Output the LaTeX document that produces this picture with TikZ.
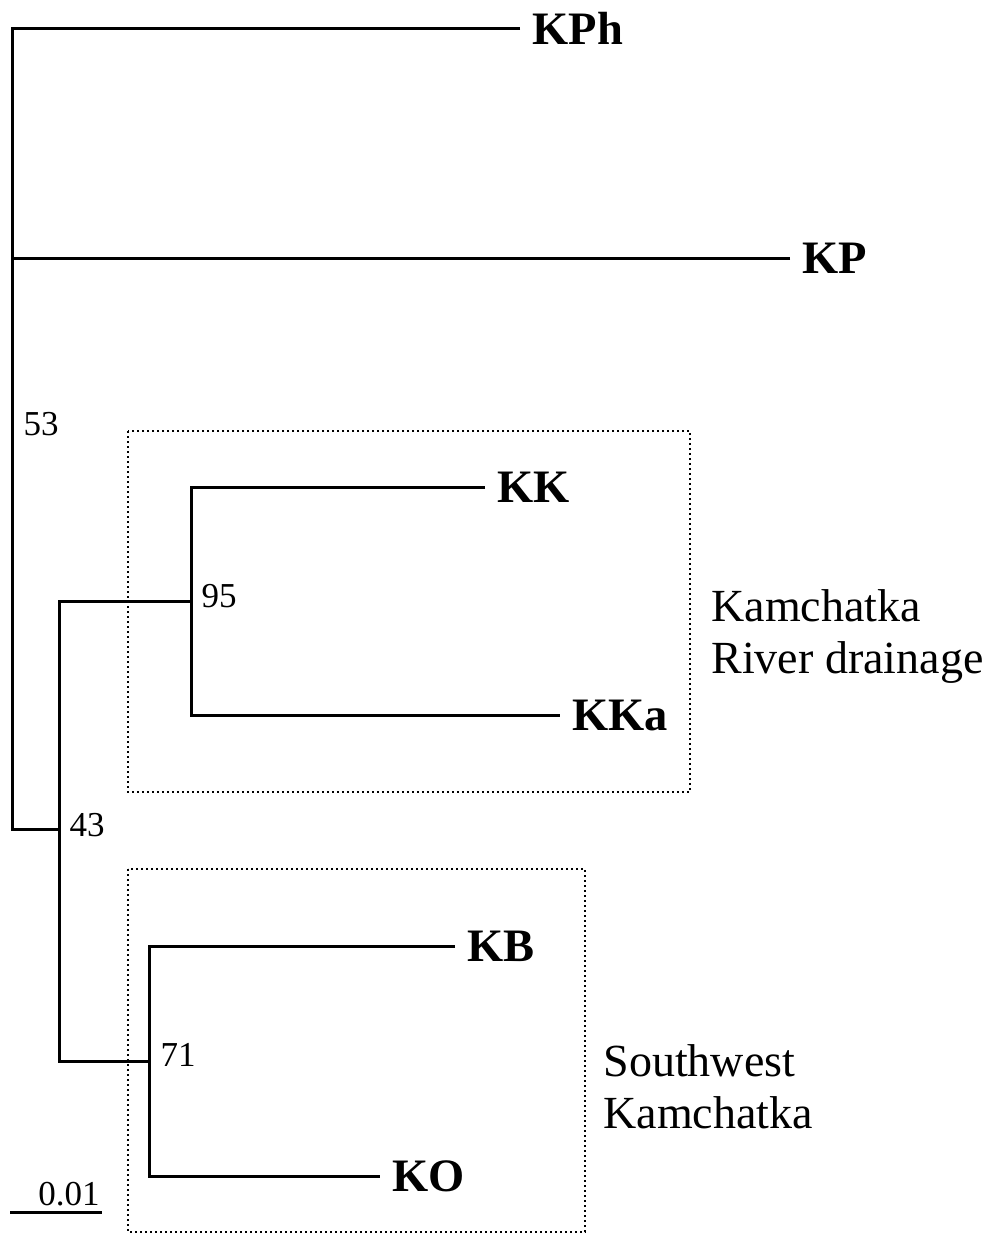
\documentclass[tikz,border=0pt]{standalone}
\usepackage{fontspec}
\setmainfont{Liberation Serif}
\usepackage{tikz}
\usetikzlibrary{positioning,calc}
\tikzset{
  taxon/.style={anchor=west,inner sep=0pt,inner xsep=11pt,font=\fontsize{46.5}{53}\bfseries\selectfont},
  support/.style={anchor=west,inner sep=0pt,font=\fontsize{35}{40}\selectfont},
  grouplabel/.style={anchor=base west,inner sep=0pt,align=left,font=\fontsize{46}{52}\selectfont},
  groupbox/.style={line width=2pt,dash pattern=on 2pt off 3pt},
}

\begin{document}
\begin{tikzpicture}[x=1pt,y=-1pt,line width=3pt]
\useasboundingbox (0,0) rectangle (995,1234);

% taxa
\node [taxon] (kph) at (520,28) {KPh};
\node [taxon] (kp) at (790,258) {KP};
\node [taxon] (kk) at (485,487) {KK};
\node [taxon] (kka) at (560,715) {KKa};
\node [taxon] (kb) at (455,946) {KB};
\node [taxon] (ko) at (380,1176) {KO};

% internal nodes
\coordinate (nroot) at (12,829);
\coordinate (n43) at (59,829);
\coordinate (n95) at (191,601);
\coordinate (n71) at (149,1061);

% bootstrap values
\node [support] (b53) at (22,424) {53};
\node [support] (b95) at (200,596) {95};
\node [support] (b43) at (68,825) {43};
\node [support] (b71) at (159,1055) {71};

% groups
\draw[groupbox] (128,431) rectangle (690,792);
\draw[groupbox] (128,869) rectangle (585,1232);
\node [grouplabel] (kriver) at (710,673) {Kamchatka\\River drainage};
\node [grouplabel] (swk) at (602,1128) {Southwest\\Kamchatka};

\begin{scope}[line join=miter]
\draw (kph.west) -| (nroot) -- (n43);
\draw (kp.west) -- (kp.west -| nroot);
\draw (n95) -| (n43) |- (n71);
\draw (kk.west) -| (n95) |- (kka.west);
\draw (kb.west) -| (n71) |- (ko.west);
\end{scope}

% scale bar
\coordinate (sb1) at (10,1212);
\coordinate (sb2) at (102,1212);
\draw (sb1) -- (sb2);
\node [anchor=base east,inner sep=0pt,font=\fontsize{35}{40}\selectfont] (sblabel) at (101,1205) {0.01};

\end{tikzpicture}
\end{document}
